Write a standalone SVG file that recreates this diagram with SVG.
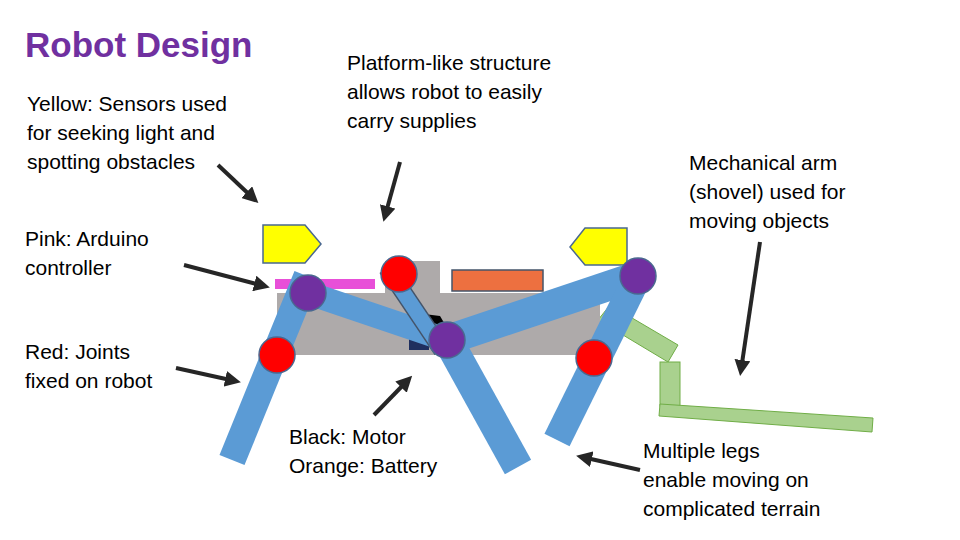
<svg xmlns="http://www.w3.org/2000/svg" width="960" height="540" viewBox="0 0 960 540">
<style>
text{font-family:"Liberation Sans",Arial,sans-serif;font-size:21px;fill:#000}
.t{font-size:35px;font-weight:bold;fill:#7030A0}
.limb{stroke:#5B9BD5;stroke-linecap:butt}
.a{stroke:#262626;stroke-width:4;marker-end:url(#ah)}
.red{fill:#FF0000;stroke:#4A6890;stroke-width:1.5}
.pur{fill:#7030A0;stroke:#4A6890;stroke-width:1.5}
</style>
<defs><marker id="ah" markerWidth="4" markerHeight="4" refX="2.5" refY="2" orient="auto"><path d="M0,0L4,2L0,4z" fill="#262626"/></marker></defs>
<rect width="960" height="540" fill="#fff"/>
<text class="t" x="25" y="57">Robot Design</text>
<text x="27" y="111">Yellow: Sensors used</text><text x="27" y="140">for seeking light and</text><text x="27" y="169">spotting obstacles</text>
<text x="347" y="70">Platform-like structure</text><text x="347" y="99">allows robot to easily</text><text x="347" y="128">carry supplies</text>
<text x="689" y="170">Mechanical arm</text><text x="689" y="199">(shovel) used for</text><text x="689" y="228">moving objects</text>
<text x="25" y="246">Pink: Arduino</text><text x="25" y="275">controller</text>
<text x="25" y="359">Red: Joints</text><text x="25" y="388">fixed on robot</text>
<text x="289" y="444">Black: Motor</text><text x="289" y="473">Orange: Battery</text>
<text x="643" y="458">Multiple legs</text><text x="643" y="487">enable moving on</text><text x="643" y="516">complicated terrain</text>
<g id="arm" fill="#A9D18E" stroke="#70AD47" stroke-width="1">
<polygon points="598,320 610,305 678,345 668,362"/>
<rect x="660" y="362" width="20" height="44"/>
<polygon points="660,404 873,418 872,432 659,416"/>
</g>
<g id="body">
<rect x="277" y="293" width="323" height="62" fill="#AEAAAA"/>
<rect x="385" y="261" width="55" height="34" fill="#AEAAAA"/>
</g>
<g id="motor"><polygon points="408,312 440,316 446,326 430,332 410,330" fill="#000"/><rect x="409" y="336" width="20" height="14" fill="#1F2F5F"/></g>
<rect id="arduino" x="275" y="279" width="100" height="10" fill="#E84FD8"/>
<rect id="battery" x="452" y="270" width="91" height="21" fill="#ED7040" stroke="#44546A" stroke-width="1.5"/>
<g id="sensors" fill="#FFFF00" stroke="#4A6890" stroke-width="1.5">
<polygon points="263,225 305,225 321,244 305,263 263,263"/>
<polygon points="627,228 585,228 570,247 585,265 627,265"/>
</g>
<g id="legs">
<line class="limb" x1="307" y1="276" x2="232" y2="460" stroke-width="27"/>
<line class="limb" x1="308" y1="293" x2="447" y2="340" stroke-width="24"/>
<line x1="387" y1="268" x2="442" y2="350" stroke="#44546A" stroke-width="18"/>
<line x1="387" y1="268" x2="442" y2="350" stroke="#5B9BD5" stroke-width="15"/>
<line class="limb" x1="447" y1="340" x2="638" y2="276" stroke-width="30"/>
<line class="limb" x1="445" y1="335" x2="518" y2="467" stroke-width="30"/>
<line class="limb" x1="640" y1="272" x2="557" y2="440" stroke-width="28"/>
</g>
<g id="joints">
<circle class="pur" cx="308" cy="293" r="18"/><circle class="pur" cx="447" cy="340" r="18"/><circle class="pur" cx="638" cy="276" r="18"/>
<circle class="red" cx="277" cy="355" r="18"/><circle class="red" cx="399" cy="274" r="18"/><circle class="red" cx="594" cy="358" r="18"/>
</g>
<g id="connectors">
<line class="a" x1="218" y1="165" x2="254" y2="199"/>
<line class="a" x1="400" y1="162" x2="385" y2="216"/>
<line class="a" x1="184" y1="265" x2="264" y2="286"/>
<line class="a" x1="176" y1="368" x2="235" y2="381"/>
<line class="a" x1="374" y1="415" x2="408" y2="380"/>
<line class="a" x1="760" y1="242" x2="741" y2="370"/>
<line class="a" x1="640" y1="470" x2="582" y2="457"/>
</g>
</svg>
